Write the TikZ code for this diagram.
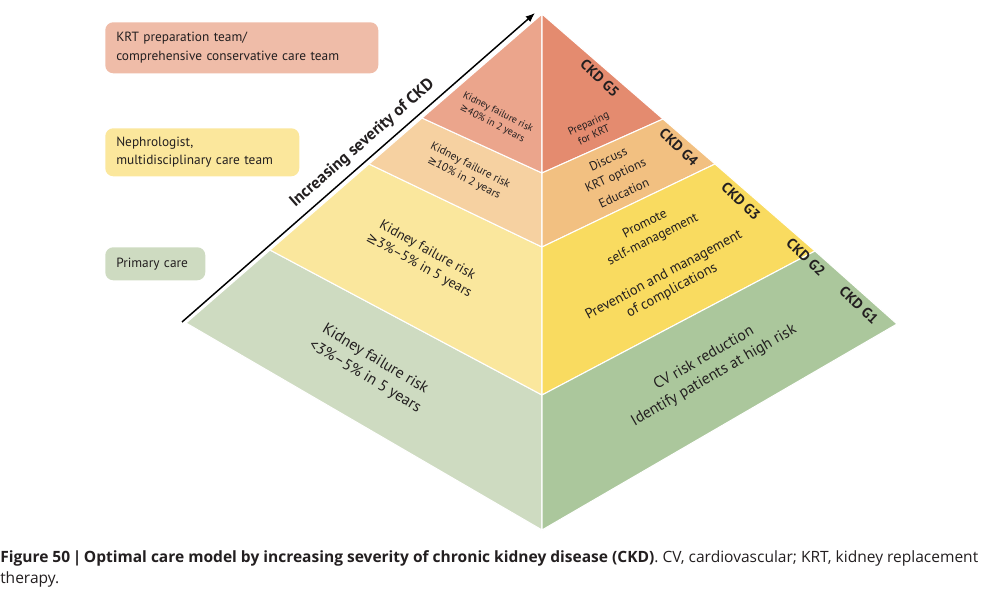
\documentclass[tikz,border=0pt]{standalone}
\usepackage{fontspec}
\setmainfont{PT Sans}
\newfontfamily\symfont{DejaVu Sans}
\newfontfamily\capfont{Open Sans}
\usetikzlibrary{arrows.meta}
\newcommand{\gesym}{{\symfont ≥}}
\definecolor{fiveL}{HTML}{EBA58C}
\definecolor{fiveR}{HTML}{E48B6F}
\definecolor{fourL}{HTML}{F6D1A1}
\definecolor{fourR}{HTML}{F2C081}
\definecolor{threeL}{HTML}{FAE79D}
\definecolor{threeR}{HTML}{F9DB60}
\definecolor{oneL}{HTML}{CEDBC1}
\definecolor{oneR}{HTML}{ABC79C}
\definecolor{krtbox}{HTML}{EFBCA8}
\definecolor{nephbox}{HTML}{FBE79C}
\definecolor{ink}{HTML}{231F20}
\begin{document}
\begin{tikzpicture}[x=0.75pt,y=-0.75pt,text=ink,
  band/.style={draw=white,line width=0.8pt},
  teambox/.style={anchor=north west,rounded corners=6pt,inner xsep=8.25pt,inner ysep=0pt,align=left,font=\fontsize{10}{14}\selectfont},
  stage/.style={rotate=-43,inner sep=0pt,font=\bfseries\fontsize{10.8}{12}\selectfont},
  facetext/.style={align=center,inner sep=0pt}]
\useasboundingbox (0,0) rectangle (984,595);

% left face
\path[band,fill=oneL] (186,323) -- (270,250) -- (542,395) -- (542,530) -- cycle;
\path[band,fill=threeL] (270,250) -- (369,164) -- (542,247) -- (542,395) -- cycle;
\path[band,fill=fourL] (369,164) -- (422,118) -- (542,173) -- (542,247) -- cycle;
\path[band,fill=fiveL] (422,118) -- (542,14) -- (542,173) -- cycle;
% right face
\path[band,fill=fiveR] (542,14) -- (663,119) -- (542,173) -- cycle;
\path[band,fill=fourR] (542,173) -- (663,119) -- (715,164) -- (542,247) -- cycle;
\path[band,fill=threeR] (542,247) -- (715,164) -- (815,251) -- (542,395) -- cycle;
\path[band,fill=oneR] (542,395) -- (815,251) -- (897,324) -- (542,530) -- cycle;

\node[teambox,fill=krtbox,text width=188.25pt,minimum height=38.25pt] (krt) at (105,22) {KRT preparation team/\\comprehensive conservative care team};
\node[teambox,fill=nephbox,text width=129pt,minimum height=36pt] (neph) at (105,128) {Nephrologist,\\multidisciplinary care team};
\node[teambox,fill=oneL,text width=58.5pt,minimum height=24.75pt] (primary) at (105,247) {Primary care};

\coordinate (sevstart) at (182,322);
\coordinate (sevend) at (535,13);
\draw[-{Latex[length=7pt,width=5.5pt]},line width=1.1pt] (sevstart) -- (sevend)
  node[pos=0.54,sloped,above=2pt,font=\bfseries\fontsize{12.5}{14}\selectfont] (sevlabel) {Increasing severity of CKD};

\node[facetext,rotate=-27,font=\fontsize{7.5}{9.5}\selectfont] (riskfive) at (495,118) {Kidney failure risk\\\gesym40\% in 2 years};
\node[facetext,rotate=-27,font=\fontsize{8.5}{10.5}\selectfont] (riskfour) at (467,172) {Kidney failure risk\\\gesym10\% in 2 years};
\node[facetext,rotate=-29,font=\fontsize{10.4}{13}\selectfont] (riskthree) at (423,258) {Kidney failure risk\\\gesym3\%–5\% in 5 years};
\node[facetext,rotate=-31,font=\fontsize{11.7}{15}\selectfont] (riskone) at (370,368) {Kidney failure risk\\<3\%–5\% in 5 years};

\node[facetext,rotate=25,font=\fontsize{8}{9.5}\selectfont] (carefive) at (591,129) {Preparing\\for KRT};
\node[facetext,rotate=25,font=\fontsize{9.5}{13}\selectfont] (carefour) at (616,176) {Discuss\\KRT options\\[2pt]Education};
\node[facetext,rotate=27,font=\fontsize{10}{13}\selectfont] (carethree) at (649,232) {Promote\\self-management};
\node[facetext,rotate=28,font=\fontsize{10.7}{13}\selectfont] (caretwo) at (668,283) {Prevention and management\\of complications};
\node[facetext,rotate=30,font=\fontsize{11.7}{15}\selectfont] (careone) at (709,367) {CV risk reduction\\Identify patients at high risk};

\node[stage] (gfive) at (600,78) {CKD G5};
\node[stage] (gfour) at (679,147) {CKD G4};
\node[stage] (gthree) at (741,201) {CKD G3};
\node[stage] (gtwo) at (806,257) {CKD G2};
\node[stage] (gone) at (859,305) {CKD G1};

\node[anchor=north west,inner sep=0pt] (figcap) at (0,547) {\resizebox{733.5pt}{!}{\capfont\fontsize{11}{15}\selectfont
  \begin{tabular}{@{}l@{}}\textbf{Figure 50\,|\,Optimal care model by increasing severity of chronic kidney disease (CKD)}. CV, cardiovascular; KRT, kidney replacement\\therapy.\end{tabular}}};
\end{tikzpicture}
\end{document}
